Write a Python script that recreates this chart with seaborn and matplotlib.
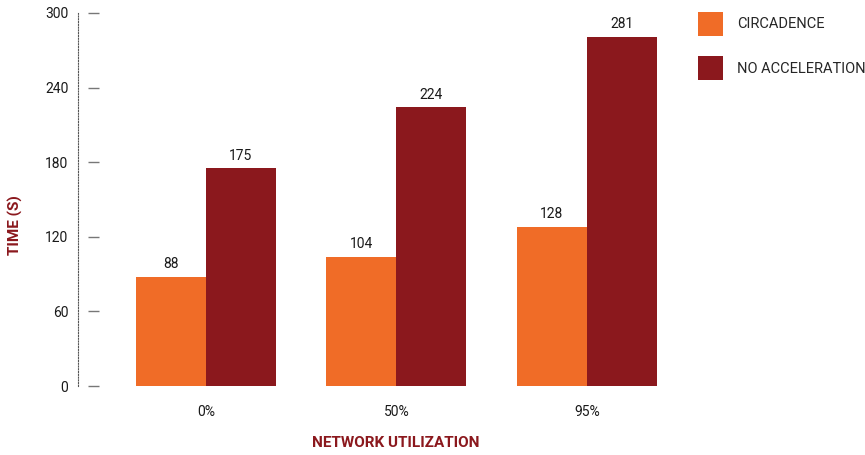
import matplotlib
matplotlib.use("Agg")
import matplotlib.pyplot as plt
import seaborn as sns
import pandas as pd

categories = ["0%", "50%", "95%"]
series_names = ["CIRCADENCE", "NO ACCELERATION"]
circadence = [88, 104, 128]
no_accel = [175, 224, 281]
y_ticks = [0, 60, 120, 180, 240, 300]

ORANGE = "#F06C27"
DARKRED = "#8B181D"

df = pd.DataFrame({
    "util": categories * 2,
    "series": [series_names[0]] * 3 + [series_names[1]] * 3,
    "time": circadence + no_accel,
})

sns.set_theme(style="white")
plt.rcParams["font.family"] = ["Roboto", "DejaVu Sans"]

fig = plt.figure(figsize=(8.65, 4.55), dpi=100)
ax = fig.add_axes([78 / 865, 69 / 455, 604 / 865, 373 / 455])

sns.barplot(data=df, x="util", y="time", hue="series", order=categories,
            hue_order=series_names, palette=[ORANGE, DARKRED], width=0.735,
            saturation=1, linewidth=0, ax=ax, legend=True)

for cont in ax.containers:
    ax.bar_label(cont, padding=4, fontsize=10, color="#1a1a1a")

ax.set_xlim(-0.672, 2.5)
ax.set_ylim(0, 300)
ax.set_yticks(y_ticks)
ax.tick_params(axis="y", length=0, pad=7, labelsize=10, labelcolor="#1a1a1a")
ax.tick_params(axis="x", length=0, pad=14, labelsize=10, labelcolor="#1a1a1a")

# tick dashes offset from the spine
ax.hlines(y_ticks, 10 / 604, 21 / 604, transform=ax.get_yaxis_transform(),
          color="#777777", lw=1, clip_on=False)

for s in ["top", "right", "bottom"]:
    ax.spines[s].set_visible(False)
ax.spines["left"].set_linestyle((0, (1, 1.5)))
ax.spines["left"].set_linewidth(0.8)
ax.spines["left"].set_color("#555555")

ax.set_ylabel("TIME (S)", fontsize=11, fontweight="bold", color=DARKRED)
ax.yaxis.set_label_coords((15 - 78) / 604, (386 - 225) / 373)
ax.set_xlabel("NETWORK UTILIZATION", fontsize=11, fontweight="bold", color=DARKRED)
ax.xaxis.set_label_coords((396 - 78) / 604, (386 - 443) / 373)
ax.xaxis.label.set_va("center")
ax.yaxis.label.set_va("center")

handles, labels = ax.get_legend_handles_labels()
ax.legend(handles, labels, loc="upper left", bbox_to_anchor=(692 / 865, 1 - 6 / 455),
          bbox_transform=fig.transFigure, frameon=False, fontsize=10.5,
          handlelength=1.71, handleheight=2.15, handletextpad=0.98, labelspacing=1.42,
          borderaxespad=0)

fig.savefig("out.png", dpi=100)
